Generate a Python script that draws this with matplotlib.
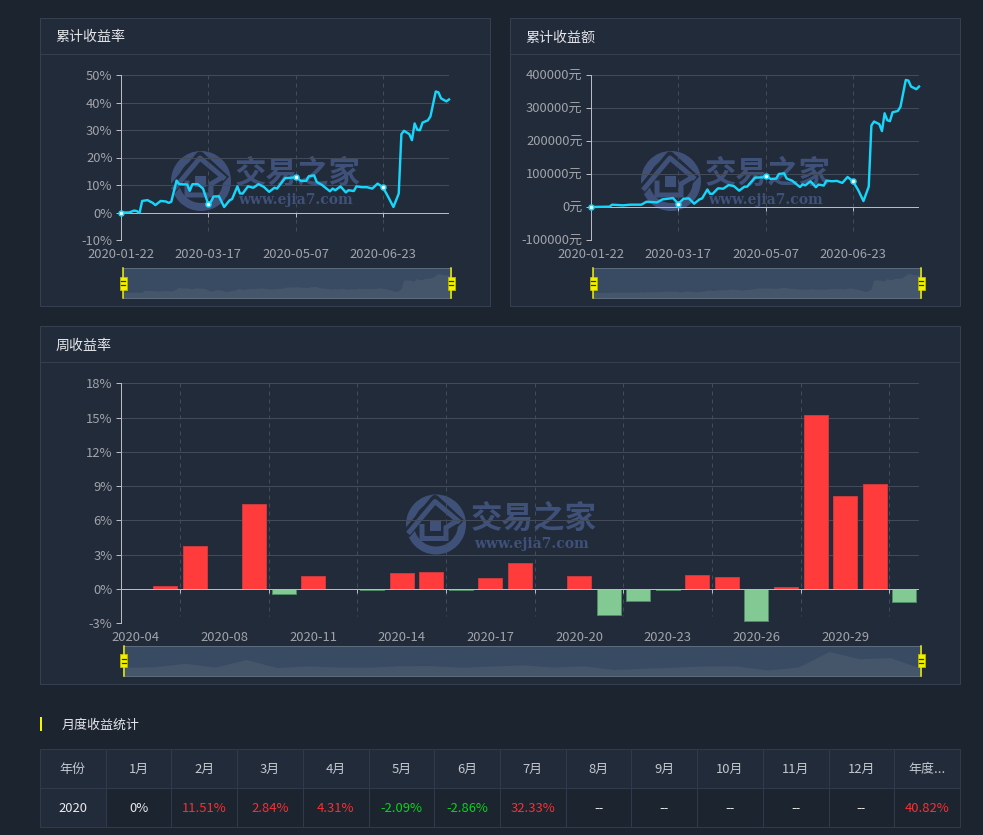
import matplotlib
matplotlib.use('Agg')
import matplotlib.pyplot as plt
from matplotlib.patches import Rectangle, Wedge

plt.rcParams['font.family'] = ['Noto Sans CJK SC', 'DejaVu Sans']

W, H = 983, 835

# cumulative return, read at the visible vertices (trading day index, %)
rate_idx = [0, 3, 5, 6, 7, 8, 10, 12, 13, 15, 17, 18, 19, 21, 22, 25, 26, 27, 29, 31, 33, 34, 35, 37, 39,
            41, 42, 44, 45, 46, 48, 50, 52, 54, 56, 58, 59, 62, 65, 66, 68, 70, 71, 73, 74, 76, 79, 80, 81,
            83, 85, 86, 88, 89, 91, 93, 95, 97, 99, 101, 103, 105, 106, 107, 109, 110, 111, 112, 113, 114,
            116, 117, 119, 120, 121, 123, 124]
rate_vals = [0, 0, 0.7, 0.5, -0.2, 4.2, 4.5, 3.5, 2.7, 4.2, 4.0, 3.5, 3.9, 11.6, 10.3, 10.2, 7.9, 10.3, 10.3,
             8.7, 3.0, 3.9, 5.8, 5.9, 2.0, 4.4, 4.9, 9.5, 6.9, 6.9, 9.5, 9.0, 10.3, 9.3, 7.5, 9.0, 8.7, 12.5,
             12.7, 13.0, 11.5, 11.5, 13.2, 13.5, 11.1, 10.0, 7.7, 8.7, 8.1, 9.5, 7.3, 8.1, 7.8, 9.5, 9.2, 9.2,
             8.7, 10.5, 9.2, 5.7, 2.0, 6.9, 28.5, 29.7, 28.5, 26.3, 32.4, 30.1, 29.9, 32.7, 33.5, 35, 44, 43.7,
             41.5, 40.4, 41.1]

# cumulative amount (trading day index, yuan)
amt_idx = [0, 7, 8, 12, 15, 19, 21, 25, 27, 29, 31, 33, 35, 37, 39, 41, 42, 44, 45, 46, 48, 50, 52, 54, 56, 58,
           59, 62, 65, 66, 68, 70, 71, 73, 74, 76, 79, 80, 81, 83, 85, 86, 88, 89, 91, 93, 95, 97, 99, 101,
           103, 105, 106, 107, 109, 110, 111, 112, 113, 114, 116, 117, 119, 120, 121, 123, 124]
amt_vals = [0, 1000, 7000, 5000, 7000, 7000, 16000, 14000, 23000, 25000, 27000, 10000, 25000, 26000, 10000,
            23000, 26000, 53000, 40000, 40000, 56500, 55500, 66500, 63500, 49500, 61500, 61500, 89000, 90000,
            93500, 85000, 86000, 100000, 102000, 86000, 80000, 60500, 68500, 65500, 78000, 60000, 68000, 65000,
            80000, 78000, 79000, 73000, 91000, 78000, 51500, 18000, 62000, 247000, 259000, 251000, 230000,
            284000, 263000, 260000, 287000, 291000, 304000, 385000, 383000, 365000, 357000, 365000]

day_ticks = [0, 33, 66, 99]
day_labels = ['2020-01-22', '2020-03-17', '2020-05-07', '2020-06-23']

weeks = ['04', '06', '07', '08', '09', '10', '11', '12', '13', '14', '15', '16', '17', '18', '19', '20', '21',
         '22', '23', '24', '25', '26', '27', '28', '29', '30', '31']
week_vals = [0, 0.25, 3.8, 0.02, 7.4, -0.4, 1.15, -0.02, -0.08, 1.38, 1.52, -0.12, 0.97, 2.25, 0.03, 1.15, -2.3,
             -1.05, -0.08, 1.2, 1.08, -2.8, 0.15, 15.2, 8.17, 9.2, -1.14]

table_head = ['年份', '1月', '2月', '3月', '4月', '5月', '6月', '7月', '8月', '9月', '10月', '11月', '12月', '年度...']
table_row = ['2020', '0%', '11.51%', '2.84%', '4.31%', '-2.09%', '-2.86%', '32.33%', '--', '--', '--', '--', '--',
             '40.82%']

PAGE = '#1c2430'
PANEL = '#222b3a'
EDGE = '#343f50'
GRID = '#434b5a'
AXIS = '#b8bcc2'
LABEL = '#a0a4aa'
LINE = '#17d6fb'
MARK = '#3f5179'


def px(size):
	return size * 72 / 100


def px_axes(x0, y0, x1, y1, zorder=2):
	ax = fig.add_axes([x0 / W, 1 - y1 / H, (x1 - x0) / W, (y1 - y0) / H], zorder=zorder)
	ax.patch.set_alpha(0)
	return ax


def panel(x0, y0, x1, y1, head_y, title):
	bg.add_patch(Rectangle((x0, y0), x1 - x0, y1 - y0, fc=PANEL, ec=EDGE, lw=px(1)))
	bg.plot([x0, x1], [head_y, head_y], color=EDGE, lw=px(1))
	bg.text(x0 + 15.5, (y0 + head_y) / 2 + 1.5, title, color='#e4e6ea', fontsize=px(14), ha='left', va='center')


def watermark(cx, cy, tx, ty, ux, uy):
	bg.add_patch(Wedge((cx, cy), 30, 0, 360, width=8, fc=MARK, ec='none'))
	bg.plot([cx - 30, cx - 1, cx + 25], [cy + 10, cy - 25, cy - 1], color=PANEL, lw=px(9), solid_capstyle='butt')
	bg.plot([cx - 28, cx - 1, cx + 24], [cy + 9, cy - 23, cy - 2], color=MARK, lw=px(5), solid_capstyle='butt')
	bg.plot([cx - 14, cx - 14, cx + 10, cx + 10, cx + 20], [cy + 2, cy + 14, cy + 14, cy + 3, cy - 3],
			color=MARK, lw=px(5), solid_joinstyle='miter')
	bg.add_patch(Rectangle((cx - 6, cy - 5), 11, 11, fc=MARK, ec='none'))
	bg.text(tx, ty, '交易之家', color=MARK, fontsize=px(31.5), fontweight='bold', ha='left', va='center')
	bg.text(ux, uy, 'www.ejia7.com', color=MARK, fontsize=px(13.9), fontweight='bold', ha='left', va='center',
			family=['DejaVu Serif'])


def slider(x0, y0, x1, y1, xs, ys):
	lo, hi = min(ys), max(ys)
	rng = hi - lo
	ax = px_axes(x0, y0, x1, y1, zorder=3)
	ax.set_facecolor('#394b62')
	ax.patch.set_alpha(1)
	ax.fill_between(xs, lo - 0.3 * rng, ys, color='#45566a', lw=0)
	ax.set_xlim(xs[0], xs[-1])
	ax.set_ylim(lo - 0.3 * rng, hi + 0.3 * rng)
	ax.set_xticks([])
	ax.set_yticks([])
	for s in ax.spines.values():
		s.set_color('#5d6c7d')
		s.set_linewidth(px(1))
	for hx in (x0, x1):
		fg.plot([hx, hx], [y0, y1], color='#f0f000', lw=px(1.5))
		fg.add_patch(Rectangle((hx - 3.5, (y0 + y1) / 2 - 6.5), 7, 13, fc='#f0f000', ec='#b4b400', lw=px(1)))
		for dy in (-2.2, 2.2):
			fg.plot([hx - 2, hx + 2], [(y0 + y1) / 2 + dy] * 2, color='#33330a', lw=px(1.2))


def style(ax, yticks, ylabels):
	ax.set_yticks(yticks)
	ax.set_yticklabels(ylabels)
	ax.set_ylim(yticks[0], yticks[-1])
	ax.grid(axis='y', color=GRID, lw=px(1))
	ax.set_axisbelow(True)
	ax.tick_params(axis='y', length=px(5), width=px(1), color=AXIS, labelcolor=LABEL, labelsize=px(13), pad=2.5)
	ax.tick_params(axis='x', length=0, labelcolor=LABEL, labelsize=px(13), pad=5.5)
	for s in ('top', 'right', 'bottom'):
		ax.spines[s].set_visible(False)
	ax.spines['left'].set_color(AXIS)
	ax.spines['left'].set_linewidth(px(1))
	ax.axhline(0, color=AXIS, lw=px(1), zorder=1.5)


def dashed(ax, xs, yticks):
	# dashed guides hanging from the top, and the little marks under the zero line, 4px long
	trans = ax.get_xaxis_transform()
	for t in xs:
		ax.plot([t, t], [1, 0.03], transform=trans, color=GRID, lw=px(1), ls=(0, (4, 4)), zorder=1)
	step = (yticks[-1] - yticks[0]) * 4 / (ax.bbox.height)
	ax.vlines(xs, -step, 0, color=AXIS, lw=px(1), zorder=1.5)


def day_chart(ax, xs, ys, yticks, ylabels):
	style(ax, yticks, ylabels)
	ax.set_xticks(day_ticks)
	ax.set_xticklabels(day_labels)
	dashed(ax, day_ticks[1:], yticks)
	ax.plot(xs, ys, color=LINE, lw=px(2.4), solid_joinstyle='round', clip_on=False, zorder=3)
	# white dots on the labelled days, values taken from the series
	my = [ys[xs.index(t)] for t in day_ticks]
	ax.plot(day_ticks, my, ls='none', marker='o', ms=px(5), mfc='white', mec=LINE, mew=px(1.5),
			clip_on=False, zorder=4)
	ax.set_xlim(0, 124)
	ax.set_ylim(yticks[0], yticks[-1])


fig = plt.figure(figsize=(W / 100, H / 100), dpi=100, facecolor=PAGE)

bg = fig.add_axes([0, 0, 1, 1], zorder=0)
bg.set_xlim(0, W)
bg.set_ylim(H, 0)
bg.axis('off')

fg = fig.add_axes([0, 0, 1, 1], zorder=5)
fg.set_xlim(0, W)
fg.set_ylim(H, 0)
fg.axis('off')

panel(40, 18, 490, 306, 54, '累计收益率')
panel(510, 18, 960, 306, 54, '累计收益额')
panel(40, 326, 960, 684, 362, '周收益率')

watermark(201, 181, 235, 174, 238, 200)
watermark(671, 181, 705, 174, 708, 200)
watermark(436, 524.5, 471, 519, 474, 544)

ax1 = px_axes(121, 75, 449, 240)
day_chart(ax1, rate_idx, rate_vals, [-10, 0, 10, 20, 30, 40, 50],
		  ['-10%', '0%', '10%', '20%', '30%', '40%', '50%'])
slider(123, 268, 451, 298, rate_idx, rate_vals)

ax2 = px_axes(591, 75, 919, 240)
day_chart(ax2, amt_idx, amt_vals, [-100000, 0, 100000, 200000, 300000, 400000],
		  ['-100000元', '0元', '100000元', '200000元', '300000元', '400000元'])
slider(593, 268, 921, 298, amt_idx, amt_vals)

ax3 = px_axes(121, 383.3, 919, 623.3)
bar_ticks = [-3, 0, 3, 6, 9, 12, 15, 18]
style(ax3, bar_ticks, [f'{v}%' for v in bar_ticks])
week_x = list(range(len(weeks)))
ax3.set_xticks(week_x[::3])
ax3.set_xticklabels([f'2020-{weeks[i]}' for i in week_x[::3]])
bounds = [i + 0.5 for i in week_x[1::3]]
dashed(ax3, bounds, bar_ticks)
ax3.axhline(-3, color=GRID, lw=px(1), zorder=1)
bar_colors = ['#ff3b3b' if v >= 0 else '#82c994' for v in week_vals]
bar_edges = ['#c93a3f' if v >= 0 else '#4f8a66' for v in week_vals]
ax3.bar(week_x, week_vals, width=0.81, color=bar_colors, edgecolor=bar_edges, lw=px(1), zorder=2)
ax3.axhline(0, color=AXIS, lw=px(1), zorder=2.5)
ax3.set_xlim(-0.5, 26.5)
ax3.set_ylim(-3, 18)
slider(123.5, 646, 921, 675.5, week_x, week_vals)

# monthly table
bg.add_patch(Rectangle((40, 717), 2, 14, fc='#f5f500', ec='none'))
bg.text(62, 725, '月度收益统计', color='#e4e6ea', fontsize=px(13), ha='left', va='center')

col_w = 920 / len(table_head)
for i, (head, cell) in enumerate(zip(table_head, table_row)):
	x = 40 + i * col_w
	bg.add_patch(Rectangle((x, 749), col_w, 39, fc=PANEL, ec='#2f3a4b', lw=px(1)))
	bg.add_patch(Rectangle((x, 788), col_w, 39, fc=PANEL if i == 0 else PAGE, ec='#2f3a4b', lw=px(1)))
	bg.text(x + col_w / 2, 769.5, head, color='#c4c8ce', fontsize=px(13), ha='center', va='center')
	color = '#ebebeb'
	if cell.endswith('%') and cell != '0%' and i > 0:
		color = '#00d915' if cell.startswith('-') else '#ff2d2d'
	family = ['DejaVu Sans'] if cell == '--' else None
	bg.text(x + col_w / 2, 808.5, cell, color=color, fontsize=px(13), ha='center', va='center', family=family)

fig.savefig('out.png', dpi=100, facecolor=PAGE)
